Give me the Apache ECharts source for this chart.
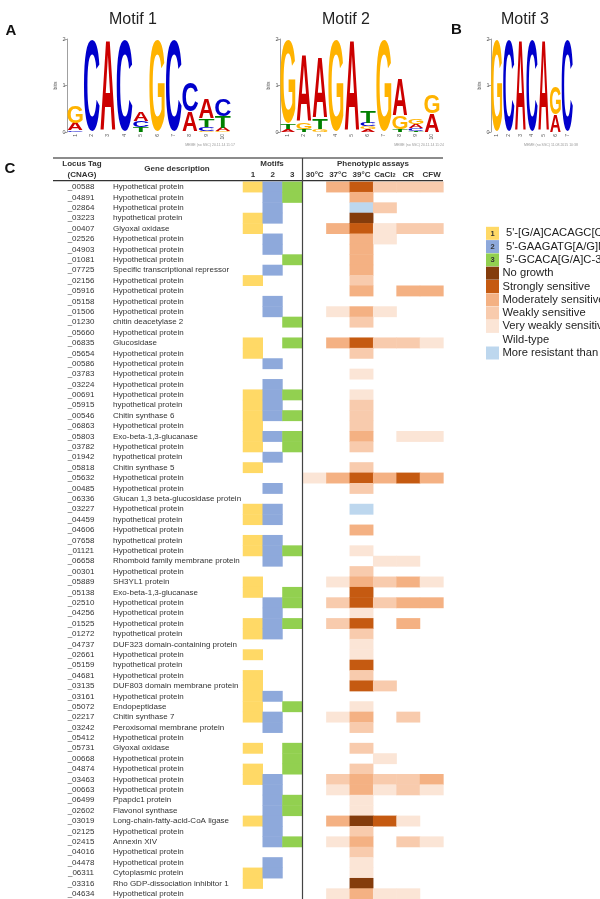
<!DOCTYPE html>
<html><head><meta charset="utf-8">
<script src="https://cdn.jsdelivr.net/npm/echarts@6/dist/echarts.min.js"></script>
<style>html,body{margin:0;padding:0;background:#fff}#chart{width:600px;height:899px}</style>
</head><body><div id="chart"></div>
<script>
// ---------- DATA ----------
const loci = ['_00588','_04891','_02864','_03223','_00407','_02526','_04903','_01081','_07725','_02156',
'_05916','_05158','_01506','_01230','_05660','_06835','_05654','_00586','_03783','_03224',
'_00691','_05915','_00546','_06863','_05803','_03782','_01942','_05818','_05632','_00485',
'_06336','_03227','_04459','_04606','_07658','_01121','_06658','_00301','_05889','_05138',
'_02510','_04256','_01525','_01272','_04737','_02661','_05159','_04681','_03135','_03161',
'_05072','_02217','_03242','_05412','_05731','_00668','_04874','_03463','_00663','_06499',
'_02602','_03019','_02125','_02415','_04016','_04478','_06311','_03316','_04634'];
const descriptions = ['Hypothetical protein','Hypothetical protein','Hypothetical protein','hypothetical protein','Glyoxal oxidase','Hypothetical protein','Hypothetical protein','Hypothetical protein','Specific transcriptional repressor','Hypothetical protein',
'Hypothetical protein','Hypothetical protein','Hypothetical protein','chitin deacetylase 2','Hypothetical protein','Glucosidase','Hypothetical protein','Hypothetical protein','Hypothetical protein','Hypothetical protein',
'Hypothetical protein','hypothetical protein','Chitin synthase 6','Hypothetical protein','Exo-beta-1,3-glucanase','Hypothetical protein','hypothetical protein','Chitin synthase 5','Hypothetical protein','Hypothetical protein',
'Glucan 1,3 beta-glucosidase protein','Hypothetical protein','hypothetical protein','Hypothetical protein','hypothetical protein','Hypothetical protein','Rhomboid family membrane protein','Hypothetical protein','SH3YL1 protein','Exo-beta-1,3-glucanase',
'Hypothetical protein','Hypothetical protein','Hypothetical protein','hypothetical protein','DUF323 domain-containing protein','Hypothetical protein','hypothetical protein','Hypothetical protein','DUF803 domain membrane protein','Hypothetical protein',
'Endopeptidase','Chitin synthase 7','Peroxisomal membrane protein','Hypothetical protein','Glyoxal oxidase','Hypothetical protein','Hypothetical protein','Hypothetical protein','Hypothetical protein','Ppapdc1 protein',
'Flavonol synthase','Long-chain-fatty-acid-CoA ligase','Hypothetical protein','Annexin XIV','Hypothetical protein','Hypothetical protein','Cytoplasmic protein','Rho GDP-dissociation inhibitor 1','Hypothetical protein'];

// motif presence flags (1 = present)
const motif1 = [1,0,0,1,1,0,0,0,0,1, 0,0,0,0,0,1,1,0,0,0, 1,1,1,1,1,1,0,1,0,0, 0,1,1,0,1,1,0,0,1,1, 0,0,1,1,0,1,0,1,1,1, 1,1,0,0,1,0,1,1,0,0, 0,1,0,0,0,0,1,1,0];
const motif2 = [1,1,1,1,0,1,1,0,1,0, 0,1,1,0,0,0,0,1,0,1, 1,1,1,0,1,0,1,0,0,1, 0,1,1,0,1,1,1,0,0,0, 1,1,1,1,0,0,0,0,0,1, 0,1,1,0,0,0,0,1,1,1, 1,1,1,1,0,1,1,0,0];
const motif3 = [1,1,0,0,0,0,0,1,0,0, 0,0,0,1,0,1,0,0,0,0, 1,0,1,0,1,1,0,0,0,0, 0,0,0,0,0,1,0,0,0,1, 1,0,1,0,0,0,0,0,0,0, 1,0,0,0,1,1,1,0,0,1, 1,0,0,1,0,0,0,0,0];
const motifColumns = ['1','2','3'];
const motifLegend = ["5'-[G/A]CACAGC[C/A][A/T][C/T]-3'", "5'-GAAGATG[A/G]N[G/A]-3'", "5'-GCACA[G/A]C-3'"];

// phenotype levels: 5 no growth, 4 strong, 3 moderate, 2 weak, 1 very weak, 0 wild-type, -1 more resistant
const assayColumns = ['30°C','37°C','39°C','CaCl2','CR','CFW'];
const t30   = [0,0,0,0,0,0,0,0,0,0, 0,0,0,0,0,0,0,0,0,0, 0,0,0,0,0,0,0,0,1,0, 0,0,0,0,0,0,0,0,0,0, 0,0,0,0,0,0,0,0,0,0, 0,0,0,0,0,0,0,0,0,0, 0,0,0,0,0,0,0,0,0];
const t37   = [3,0,0,0,3,0,0,0,0,0, 0,0,1,0,0,3,0,0,0,0, 0,0,0,0,0,0,0,0,3,0, 0,0,0,0,0,0,0,0,1,0, 2,0,2,0,0,0,0,0,0,0, 0,1,0,0,0,0,0,2,1,0, 0,3,0,1,0,0,0,0,1];
const t39   = [4,3,-1,5,4,3,3,3,3,2, 3,0,3,2,0,4,2,0,1,0, 1,2,2,2,3,2,0,2,4,2, 0,-1,0,3,0,1,0,2,3,4, 4,1,4,2,1,1,4,2,4,0, 1,3,2,0,2,0,2,3,3,1, 1,5,2,3,2,1,1,5,3];
const cacl2 = [2,0,2,0,1,1,0,0,0,0, 0,0,1,0,0,2,0,0,0,0, 0,0,0,0,0,0,0,0,3,0, 0,0,0,0,0,0,1,0,2,0, 2,0,0,0,0,0,0,0,2,0, 0,0,0,0,0,1,0,2,1,0, 0,4,0,0,0,0,0,0,1];
const cr    = [2,0,0,0,2,0,0,0,0,0, 3,0,0,0,0,2,0,0,0,0, 0,0,0,0,1,0,0,0,4,0, 0,0,0,0,0,0,1,0,3,0, 3,0,3,0,0,0,0,0,0,0, 0,2,0,0,0,0,0,2,2,0, 0,1,0,2,0,0,0,0,1];
const cfw   = [2,0,0,0,2,0,0,0,0,0, 3,0,0,0,0,1,0,0,0,0, 0,0,0,0,1,0,0,0,3,0, 0,0,0,0,0,0,0,0,1,0, 3,0,0,0,0,0,0,0,0,0, 0,0,0,0,0,0,0,3,1,0, 0,0,0,1,0,0,0,0,0];
const levelValues = [5,4,3,2,1,0,-1];
const levelLabels = ['No growth','Strongly sensitive','Moderately sensitive','Weakly sensitive','Very weakly sensitive','Wild-type','More resistant than wild-type'];

// sequence logos: information (bits) per letter per position
const logo1Pos = ['1','2','3','4','5','6','7','8','9','10'];
const logo1A = [0.16,0,1.98,0,0.21,0,0,0.43,0.42,0.07];
const logo1C = [0.02,1.98,0,1.98,0.14,0,1.98,0.64,0.09,0.36];
const logo1G = [0.38,0,0,0,0,1.98,0,0,0.02,0.02];
const logo1T = [0.01,0,0,0,0.1,0,0,0,0.17,0.25];
const logo2Pos = ['1','2','3','4','5','6','7','8','9','10'];
const logo2A = [0.06,1.45,1.32,0,1.98,0.06,0,0.79,0.08,0.39];
const logo2C = [0,0,0,0,0,0.07,0,0,0.05,0];
const logo2G = [1.8,0.14,0.05,1.98,0,0.06,1.98,0.29,0.1,0.39];
const logo2T = [0.1,0.06,0.23,0,0,0.25,0,0.06,0.03,0];
const logo3Pos = ['1','2','3','4','5','6','7'];
const logo3A = [0,0,1.98,0,1.98,0.38,0];
const logo3C = [0,1.98,0,1.98,0,0,1.98];
const logo3G = [1.98,0,0,0,0,0.61,0];
const logo3T = [0,0,0,0,0,0,0];

// ---------- STYLE ----------
const FONT = '"Liberation Sans", Arial, sans-serif';
const motifColors = ['#FFD966','#8EA9DB','#92D050'];
const levelColors = ['#843C0C','#C55A11','#F4B183','#F8CBAD','#FBE5D6','#FFFFFF','#BDD7EE'];
const LETTERS = ['A','C','G','T'];
const LETTER_COLORS = {A:'#cc0000', C:'#0000cc', G:'#ffb300', T:'#008000'};
const GLYPH_W = {A:0.72, C:0.66, G:0.70, T:0.60};

function logoRender(params, api) {
  const idx = api.value(0);
  const hs = LETTERS.map((L,k)=>({L:L, h:api.value(k+1)})).filter(o=>o.h>0).sort((a,b)=>a.h-b.h);
  const band = api.size([1,0])[0];
  let base = 0; const children = [];
  hs.forEach(o=>{
    const p0 = api.coord([idx, base]); const p1 = api.coord([idx, base+o.h]);
    const ph = p0[1]-p1[1];
    base += o.h;
    if (ph < 0.4) return;
    const sy = ph/72, sx = band*0.96/(GLYPH_W[o.L]*100);
    children.push({type:'text', x:p0[0], y:(p0[1]+p1[1])/2 + 6.6*sy, scaleX:sx, scaleY:sy,
      style:{text:o.L, font:'bold 100px "Liberation Sans"', fill:LETTER_COLORS[o.L], align:'center', verticalAlign:'middle', textAlign:'center', textVerticalAlign:'middle'}});
  });
  return {type:'group', children:children};
}
function logoData(pos, A, C, G, T) { return pos.map((p,i)=>[i, A[i], C[i], G[i], T[i]]); }

const motifData = [];
[motif1, motif2, motif3].forEach((arr,c)=>arr.forEach((f,r)=>{ if (f) motifData.push([c, r, c+1]); }));
const assayData = [];
[t30, t37, t39, cacl2, cr, cfw].forEach((arr,c)=>arr.forEach((v,r)=>{ if (v!==0) assayData.push([c, r, v]); }));

const ROW_TOP = 181.8, ROW_H = 10.43, TABLE_H = ROW_H*loci.length;
const logoGrids = [
  {left:67, top:39, width:164, height:93},
  {left:280, top:39, width:160, height:93},
  {left:491, top:39, width:82, height:93}
];
const grids = logoGrids.concat([
  {left:243, top:ROW_TOP, width:59.2, height:TABLE_H},
  {left:303, top:ROW_TOP, width:140.4, height:TABLE_H}
]);
function logoX(gi, pos) {
  return {gridIndex:gi, type:'category', data:pos, axisLine:{show:false}, axisTick:{show:false},
    axisLabel:{rotate:90, fontSize:5, color:'#555', margin:2, interval:0, fontFamily:FONT}};
}
function logoY(gi) {
  return {gridIndex:gi, type:'value', min:0, max:2, interval:1, splitLine:{show:false},
    axisLine:{show:true, lineStyle:{color:'#888', width:0.8}}, axisTick:{show:true, length:2.5, lineStyle:{color:'#888', width:0.8}},
    axisLabel:{fontSize:5.5, color:'#555', margin:1.5, fontFamily:FONT},
    name:'bits', nameLocation:'middle', nameGap:8, nameTextStyle:{fontSize:5, color:'#555', fontFamily:FONT}};
}
const hdr = {fontWeight:'bold', fontSize:8, color:'#333', fontFamily:FONT};

function txt(text, x, y, font, fill, align) {
  return {type:'text', x:x, y:y, z:100, silent:true, style:{text:text, font:font, fill:fill||'#222',
    align:align||'center', verticalAlign:'middle', textAlign:align||'center', textVerticalAlign:'middle'}};
}
function line(x1,y1,x2,y2,c,w){ return {type:'line', z:100, silent:true, shape:{x1:x1,y1:y1,x2:x2,y2:y2}, style:{stroke:c, lineWidth:w}}; }

const HB = 'bold 8px "Liberation Sans"';
const graphics = [
  txt('A', 11, 31, 'bold 15px "Liberation Sans"', '#111'),
  txt('B', 456.5, 30, 'bold 15px "Liberation Sans"', '#111'),
  txt('C', 10, 168.5, 'bold 15px "Liberation Sans"', '#111'),
  txt('Motif 1', 133, 20, '16px "Liberation Sans"', '#222'),
  txt('Motif 2', 346, 20, '16px "Liberation Sans"', '#222'),
  txt('Motif 3', 525, 20, '16px "Liberation Sans"', '#222'),
  txt('MEME (no SSC) 20.11.14 11:17', 210, 145, '3.5px "Liberation Sans"', '#999'),
  txt('MEME (no SSC) 20.11.14 11:24', 419, 145, '3.5px "Liberation Sans"', '#999'),
  txt('MEME (no SSC) 11.08.2015 10:38', 551, 145, '3.5px "Liberation Sans"', '#999'),
  txt('Locus Tag', 82, 164, HB, '#333'),
  txt('(CNAG)', 82, 175, HB, '#333'),
  txt('Gene description', 177, 169, HB, '#333'),
  txt('Motifs', 272, 164, HB, '#333'),
  txt('Phenotypic assays', 373, 164, HB, '#333'),
  line(53, 158, 443, 158, '#666', 1.5),
  line(53, 180.6, 443, 180.6, '#333', 1.2),
  line(302.5, 158, 302.5, 899, '#444', 1.2),
  txt('1', 492.5, 233.5, 'bold 7.5px "Liberation Sans"', '#333'),
  txt('2', 492.5, 246.8, 'bold 7.5px "Liberation Sans"', '#333'),
  txt('3', 492.5, 260.1, 'bold 7.5px "Liberation Sans"', '#333')
];

const chart = echarts.init(document.getElementById('chart'), null, {renderer:'canvas'});
chart.setOption({
  animation:false,
  backgroundColor:'#fff',
  textStyle:{fontFamily:FONT},
  grid:grids,
  xAxis:[
    logoX(0, logo1Pos), logoX(1, logo2Pos), logoX(2, logo3Pos),
    {gridIndex:3, type:'category', data:motifColumns, position:'top', axisLine:{show:false}, axisTick:{show:false},
      axisLabel:Object.assign({margin:3, interval:0}, hdr)},
    {gridIndex:4, type:'category', data:assayColumns, position:'top', axisLine:{show:false}, axisTick:{show:false},
      axisLabel:Object.assign({margin:3, interval:0,
        formatter:function(v){ return v==='CaCl2' ? 'CaCl{s|2}' : v; },
        rich:{s:{fontSize:5.5, fontWeight:'bold', color:'#333', fontFamily:FONT, verticalAlign:'bottom', padding:[3,0,0,0]}}}, hdr)}
  ],
  yAxis:[
    logoY(0), logoY(1), logoY(2),
    {gridIndex:3, type:'category', data:loci, inverse:true, position:'left', axisLine:{show:false}, axisTick:{show:false},
      axisLabel:{margin:162, align:'center', fontSize:8, color:'#333', interval:0, fontFamily:FONT}},
    {gridIndex:3, type:'category', data:loci, inverse:true, position:'left', offset:0, axisLine:{show:false}, axisTick:{show:false},
      axisLabel:{margin:130, align:'left', fontSize:8, color:'#333', interval:0, fontFamily:FONT,
        formatter:function(v,i){ return descriptions[i]; }}},
    {gridIndex:4, type:'category', data:loci, inverse:true, show:false}
  ],
  visualMap:[
    {type:'piecewise', seriesIndex:3, dimension:2, orient:'vertical', align:'left', inverse:true, left:486, top:226.8, padding:0,
      itemWidth:13, itemHeight:13, itemGap:0.3, textGap:7, itemSymbol:'rect', selectedMode:false, hoverLink:false,
      pieces:motifLegend.map((t,i)=>({value:i+1, label:t, color:motifColors[i]})),
      textStyle:{fontSize:11.2, color:'#222', fontFamily:FONT}},
    {type:'piecewise', seriesIndex:4, dimension:2, orient:'vertical', align:'left', left:486, top:266.7, padding:0,
      itemWidth:13, itemHeight:13, itemGap:0.3, textGap:3.5, itemSymbol:'rect', selectedMode:false, hoverLink:false,
      pieces:levelValues.map((v,i)=>({value:v, label:levelLabels[i], color:levelColors[i]})),
      textStyle:{fontSize:11.2, color:'#222', fontFamily:FONT}}
  ],
  series:[
    {type:'custom', xAxisIndex:0, yAxisIndex:0, renderItem:logoRender, data:logoData(logo1Pos, logo1A, logo1C, logo1G, logo1T), silent:true},
    {type:'custom', xAxisIndex:1, yAxisIndex:1, renderItem:logoRender, data:logoData(logo2Pos, logo2A, logo2C, logo2G, logo2T), silent:true},
    {type:'custom', xAxisIndex:2, yAxisIndex:2, renderItem:logoRender, data:logoData(logo3Pos, logo3A, logo3C, logo3G, logo3T), silent:true},
    {type:'heatmap', xAxisIndex:3, yAxisIndex:3, data:motifData, silent:true, emphasis:{disabled:true}},
    {type:'heatmap', xAxisIndex:4, yAxisIndex:5, data:assayData, silent:true, emphasis:{disabled:true}}
  ],
  graphic:graphics
});
</script></body></html>
